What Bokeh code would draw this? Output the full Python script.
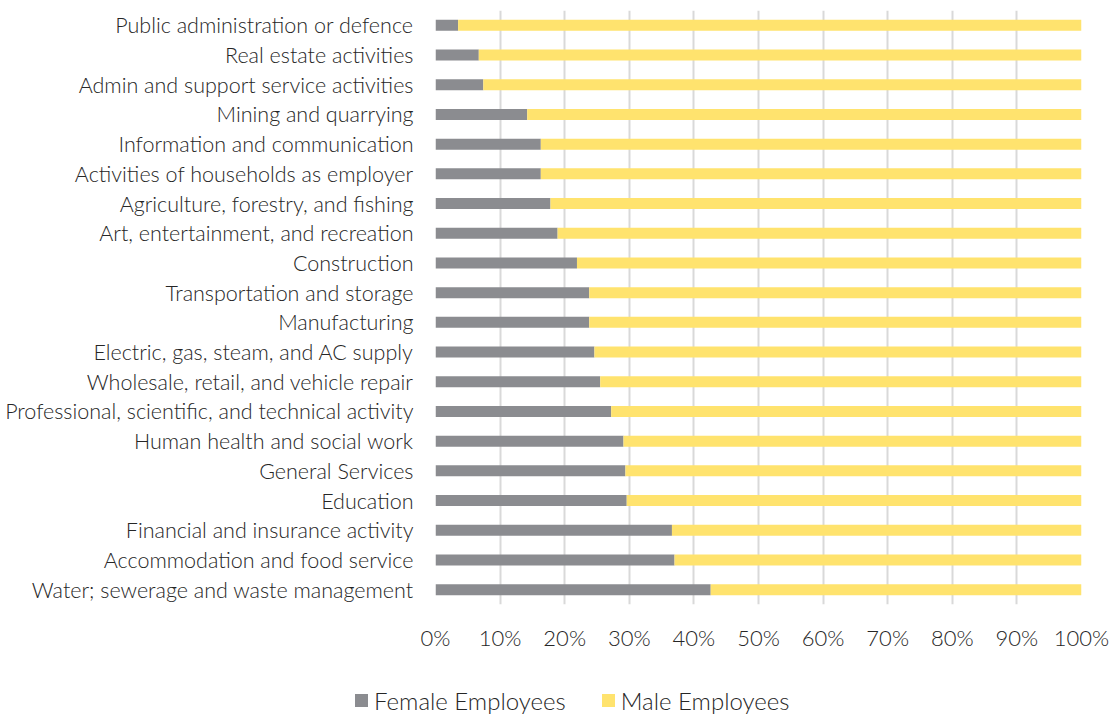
from bokeh.plotting import figure
from bokeh.layouts import column
from bokeh.models import FactorRange, Range1d, FixedTicker, NumeralTickFormatter, ColumnDataSource, Div
from bokeh.embed import file_html
from bokeh.resources import INLINE

categories = [
    "Public administration or defence",
    "Real estate activities",
    "Admin and support service activities",
    "Mining and quarrying",
    "Information and communication",
    "Activities of households as employer",
    "Agriculture, forestry, and fishing",
    "Art, entertainment, and recreation",
    "Construction",
    "Transportation and storage",
    "Manufacturing",
    "Electric, gas, steam, and AC supply",
    "Wholesale, retail, and vehicle repair",
    "Professional, scientific, and technical activity",
    "Human health and social work",
    "General Services",
    "Education",
    "Financial and insurance activity",
    "Accommodation and food service",
    "Water; sewerage and waste management",
]
female = [3.5, 6.7, 7.4, 14.2, 16.3, 16.3, 17.8, 18.9, 21.9, 23.8,
          23.8, 24.6, 25.5, 27.2, 29.1, 29.4, 29.6, 36.6, 37.0, 42.6]
male = [96.5, 93.3, 92.6, 85.8, 83.7, 83.7, 82.2, 81.1, 78.1, 76.2,
        76.2, 75.4, 74.5, 72.8, 70.9, 70.6, 70.4, 63.4, 63.0, 57.4]
series = ["Female Employees", "Male Employees"]
colors = ["#8B8C90", "#FFE36E"]
ticks = [0, 10, 20, 30, 40, 50, 60, 70, 80, 90, 100]

FONT = "'Lato Light', Lato"
TXT = "#262626"

src = ColumnDataSource(dict(
    cat=categories,
    f=[v / 100 for v in female],
    m=[v / 100 for v in male],
))

p = figure(width=1118, height=680, output_backend="svg", toolbar_location=None,
           y_range=FactorRange(factors=list(reversed(categories)), range_padding=0),
           x_range=Range1d(0, 1),
           min_border_left=435, min_border_right=37, min_border_top=10, min_border_bottom=76)

p.hbar_stack(["f", "m"], y="cat", height=0.37, color=colors, line_color=None, source=src)

p.outline_line_color = None
p.background_fill_color = "white"
p.border_fill_color = "white"

p.xaxis.ticker = FixedTicker(ticks=[t / 100 for t in ticks])
p.xaxis.formatter = NumeralTickFormatter(format="0%")
p.xaxis.axis_line_color = None
p.xaxis.major_tick_line_color = None
p.xaxis.minor_tick_line_color = None
p.xaxis.major_label_standoff = 13
p.xaxis.major_label_text_font = FONT
p.xaxis.major_label_text_font_size = "22px"
p.xaxis.major_label_text_color = TXT

p.yaxis.axis_line_color = None
p.yaxis.major_tick_line_color = None
p.yaxis.minor_tick_line_color = None
p.yaxis.major_label_standoff = 16
p.yaxis.major_label_text_font = FONT
p.yaxis.major_label_text_font_size = "21.5px"
p.yaxis.major_label_text_color = TXT

p.ygrid.grid_line_color = None
p.xgrid.grid_line_color = "#d9d9d9"
p.xgrid.grid_line_width = 2
p.xgrid.level = "underlay"

# legend strip (HTML) below the chart
items = "".join(
    f'<span style="display:inline-flex;align-items:center;margin-right:36px;">'
    f'<span style="display:inline-block;width:13px;height:13px;background:{c};margin-right:6px;"></span>'
    f'{s}</span>'
    for s, c in zip(series, colors)
)
legend_div = Div(
    text=(f'<div style="padding-left:355px;padding-top:7px;line-height:22px;white-space:nowrap;'
          f'font-family:{FONT};font-size:24px;color:{TXT};">{items}</div>'),
    width=1118, height=35, margin=(0, 0, 0, 0),
)

layout = column(p, legend_div, spacing=0)
open("out.html", "w").write(file_html(layout, INLINE))
